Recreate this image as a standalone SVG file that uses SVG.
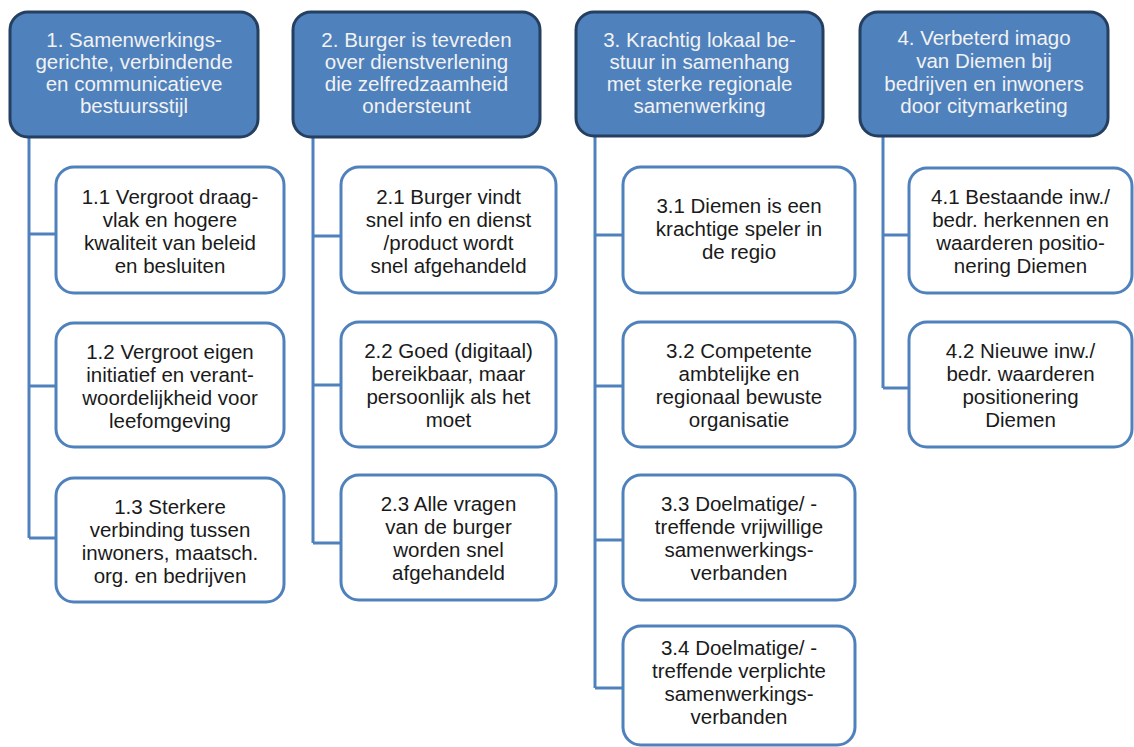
<svg xmlns="http://www.w3.org/2000/svg" width="1134" height="747" viewBox="0 0 1134 747">
<style>
.hdr{fill:#4F81BD;stroke:#243F60;stroke-width:3}
.box{fill:#FFFFFF;stroke:#4F81BD;stroke-width:3}
.ht{font-family:"Liberation Sans",Arial,sans-serif;font-size:20.5px;fill:#F2F2F2;text-anchor:middle}
.bt{font-family:"Liberation Sans",Arial,sans-serif;font-size:20.5px;fill:#1A1A1A;text-anchor:middle}
.con{fill:none;stroke:#4F81BD;stroke-width:3}
</style>
<rect width="1134" height="747" fill="#FFFFFF"/>
<g id="connectors">
<path class="con" d="M29 137V538M29 234H56M29 386H56M29 538H56"/>
<path class="con" d="M313 137V543M313 236H341M313 385H341M313 543H341"/>
<path class="con" d="M595 136V688M595 235H623M595 386H623M595 540H623M595 688H623"/>
<path class="con" d="M883 136V388M883 235H909M883 388H909"/>
</g>
<g id="h1"><rect class="hdr" x="10" y="12" width="248" height="125" rx="18"/>
<text class="ht" x="134" y="47">1. Samenwerkings-</text><text class="ht" x="134" y="69">gerichte, verbindende</text><text class="ht" x="134" y="91">en communicatieve</text><text class="ht" x="134" y="113">bestuursstijl</text></g>
<g id="h2"><rect class="hdr" x="293" y="12" width="247" height="125" rx="18"/>
<text class="ht" x="416.5" y="47">2. Burger is tevreden</text><text class="ht" x="416.5" y="69">over dienstverlening</text><text class="ht" x="416.5" y="91">die zelfredzaamheid</text><text class="ht" x="416.5" y="113">ondersteunt</text></g>
<g id="h3"><rect class="hdr" x="576" y="12" width="247" height="124" rx="18"/>
<text class="ht" x="699.5" y="47">3. Krachtig lokaal be-</text><text class="ht" x="699.5" y="69">stuur in samenhang</text><text class="ht" x="699.5" y="91">met sterke regionale</text><text class="ht" x="699.5" y="113">samenwerking</text></g>
<g id="h4"><rect class="hdr" x="860" y="12" width="248" height="124" rx="18"/>
<text class="ht" x="984" y="45">4. Verbeterd imago</text><text class="ht" x="984" y="68">van Diemen bij</text><text class="ht" x="984" y="91">bedrijven en inwoners</text><text class="ht" x="984" y="113">door citymarketing</text></g>

<g id="n11"><rect class="box" x="56" y="167" width="228" height="126" rx="18"/>
<text class="bt" x="170" y="204">1.1 Vergroot draag-</text><text class="bt" x="170" y="227">vlak en hogere</text><text class="bt" x="170" y="250">kwaliteit van beleid</text><text class="bt" x="170" y="273">en besluiten</text></g>
<g id="n12"><rect class="box" x="56" y="323" width="228" height="124" rx="18"/>
<text class="bt" x="170" y="359">1.2 Vergroot eigen</text><text class="bt" x="170" y="382">initiatief en verant-</text><text class="bt" x="170" y="405">woordelijkheid voor</text><text class="bt" x="170" y="428">leefomgeving</text></g>
<g id="n13"><rect class="box" x="56" y="478" width="228" height="124" rx="18"/>
<text class="bt" x="170" y="514">1.3 Sterkere</text><text class="bt" x="170" y="537">verbinding tussen</text><text class="bt" x="170" y="560">inwoners, maatsch.</text><text class="bt" x="170" y="583">org. en bedrijven</text></g>

<g id="n21"><rect class="box" x="341" y="167" width="215" height="126" rx="18"/>
<text class="bt" x="448.5" y="204">2.1 Burger vindt</text><text class="bt" x="448.5" y="227">snel info en dienst</text><text class="bt" x="448.5" y="250">/product wordt</text><text class="bt" x="448.5" y="273">snel afgehandeld</text></g>
<g id="n22"><rect class="box" x="341" y="322" width="215" height="125" rx="18"/>
<text class="bt" x="448.5" y="358">2.2 Goed (digitaal)</text><text class="bt" x="448.5" y="381">bereikbaar, maar</text><text class="bt" x="448.5" y="404">persoonlijk als het</text><text class="bt" x="448.5" y="427">moet</text></g>
<g id="n23"><rect class="box" x="341" y="475" width="215" height="125" rx="18"/>
<text class="bt" x="448.5" y="511">2.3 Alle vragen</text><text class="bt" x="448.5" y="534">van de burger</text><text class="bt" x="448.5" y="557">worden snel</text><text class="bt" x="448.5" y="580">afgehandeld</text></g>

<g id="n31"><rect class="box" x="623" y="167" width="232" height="126" rx="18"/>
<text class="bt" x="739" y="213">3.1 Diemen is een</text><text class="bt" x="739" y="236">krachtige speler in</text><text class="bt" x="739" y="259">de regio</text></g>
<g id="n32"><rect class="box" x="623" y="322" width="232" height="125" rx="18"/>
<text class="bt" x="739" y="358">3.2 Competente</text><text class="bt" x="739" y="381">ambtelijke en</text><text class="bt" x="739" y="404">regionaal bewuste</text><text class="bt" x="739" y="427">organisatie</text></g>
<g id="n33"><rect class="box" x="623" y="475" width="232" height="125" rx="18"/>
<text class="bt" x="739" y="511">3.3 Doelmatige/ -</text><text class="bt" x="739" y="534">treffende vrijwillige</text><text class="bt" x="739" y="557">samenwerkings-</text><text class="bt" x="739" y="580">verbanden</text></g>
<g id="n34"><rect class="box" x="623" y="626" width="232" height="119" rx="18"/>
<text class="bt" x="739" y="655">3.4 Doelmatige/ -</text><text class="bt" x="739" y="678">treffende verplichte</text><text class="bt" x="739" y="701">samenwerkings-</text><text class="bt" x="739" y="724">verbanden</text></g>

<g id="n41"><rect class="box" x="909" y="168" width="223" height="125" rx="18"/>
<text class="bt" x="1020.5" y="204">4.1 Bestaande inw./</text><text class="bt" x="1020.5" y="227">bedr. herkennen en</text><text class="bt" x="1020.5" y="250">waarderen positio-</text><text class="bt" x="1020.5" y="273">nering Diemen</text></g>
<g id="n42"><rect class="box" x="909" y="322" width="223" height="125" rx="18"/>
<text class="bt" x="1020.5" y="358">4.2 Nieuwe inw./</text><text class="bt" x="1020.5" y="381">bedr. waarderen</text><text class="bt" x="1020.5" y="404">positionering</text><text class="bt" x="1020.5" y="427">Diemen</text></g>
</svg>
